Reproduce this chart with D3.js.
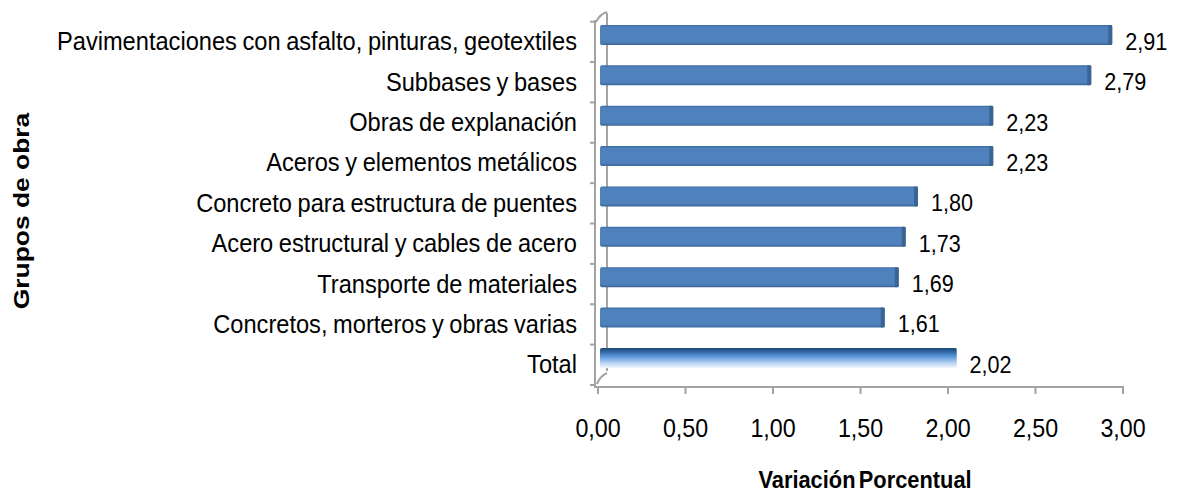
<!DOCTYPE html>
<html>
<head>
<meta charset="utf-8">
<script src="https://cdn.jsdelivr.net/npm/d3@7"></script>
<style>
  body { margin: 0; background: #fff; }
  svg text { font-family: "Liberation Sans", Arial, sans-serif; fill: #000; }
</style>
</head>
<body>
<svg id="chart" width="1177" height="499"></svg>
<script>
// categories top to bottom, and their values (%)
var categories = [
    "Pavimentaciones con asfalto, pinturas, geotextiles",
    "Subbases y bases",
    "Obras de explanación",
    "Aceros y elementos metálicos",
    "Concreto para estructura de puentes",
    "Acero estructural y cables de acero",
    "Transporte de materiales",
    "Concretos, morteros y obras varias",
    "Total"
];
var values = [2.91, 2.79, 2.23, 2.23, 1.80, 1.73, 1.69, 1.61, 2.02];
var tickValues = [0, 0.5, 1, 1.5, 2, 2.5, 3];

var svg = d3.select("#chart");
var fmt = function(v) { return d3.format(".2f")(v).replace(".", ","); };

var x = d3.scaleLinear().domain([0, 3]).range([598, 1123]);
var y = d3.scaleBand().domain(categories).range([21.7, 385]);

var defs = svg.append("defs");
var g1 = defs.append("linearGradient").attr("id", "barGrad")
    .attr("x1", 0).attr("y1", 0).attr("x2", 0).attr("y2", 1);
[[0, "#3c6aa2"], [0.1, "#4f81bd"], [0.85, "#4f81bd"], [1, "#3b6597"]].forEach(function(s) {
    g1.append("stop").attr("offset", s[0]).attr("stop-color", s[1]);
});
var g2 = defs.append("linearGradient").attr("id", "totalGrad")
    .attr("x1", 0).attr("y1", 0).attr("x2", 0).attr("y2", 1);
[[0, "#1e4876"], [0.15, "#2a5f9a"], [0.45, "#5f9ade"], [0.75, "#b7d3f3"], [1, "#f2f6fc"]].forEach(function(s) {
    g2.append("stop").attr("offset", s[0]).attr("stop-color", s[1]);
});

// 3D frame
var frame = svg.append("g").attr("fill", "none").attr("stroke", "#a3a3a3").attr("stroke-width", 2);
frame.append("line").attr("x1", 607).attr("y1", 13).attr("x2", 607).attr("y2", 371);
frame.append("path").attr("d", "M596,22 Q600,14 607,12");
frame.append("path").attr("d", "M597,384 Q600,376 607,373");
frame.append("line").attr("x1", 595).attr("y1", 20).attr("x2", 595).attr("y2", 387);
frame.append("line").attr("x1", 594).attr("y1", 387).attr("x2", x(3) + 1).attr("y2", 387);

// left ticks at band boundaries
var bounds = categories.map(function(c) { return y(c); }).concat([y.range()[1]]);
frame.selectAll(".ytick").data(bounds).enter().append("line")
    .attr("x1", 590).attr("x2", 596)
    .attr("y1", function(d) { return d; }).attr("y2", function(d) { return d; });

// bottom ticks
frame.selectAll(".xtick").data(tickValues).enter().append("line")
    .attr("x1", function(d) { return x(d); }).attr("x2", function(d) { return x(d); })
    .attr("y1", 386).attr("y2", 394);

svg.selectAll(".xlabel").data(tickValues).enter().append("text")
    .attr("transform", function(d) { return "translate(" + x(d) + ",437) scale(0.93,1)"; })
    .attr("text-anchor", "middle")
    .style("font-size", "25px")
    .text(fmt);

// bars
var bars = svg.selectAll(".bar").data(values).enter().append("g");
bars.append("rect")
    .attr("x", x(0) + 2)
    .attr("y", function(d, i) { return y(categories[i]) + 3.3; })
    .attr("width", function(d) { return x(d) + 3 - x(0); })
    .attr("height", 20)
    .attr("rx", 2)
    .attr("fill", function(d, i) { return categories[i] === "Total" ? "url(#totalGrad)" : "url(#barGrad)"; });
bars.append("rect")
    .attr("x", function(d) { return x(d) + 1; })
    .attr("y", function(d, i) { return y(categories[i]) + 3.3; })
    .attr("width", 4)
    .attr("height", 20)
    .attr("rx", 1)
    .attr("fill", function(d, i) { return categories[i] === "Total" ? "url(#totalGrad)" : "#38608f"; })
    .attr("opacity", function(d, i) { return categories[i] === "Total" ? 1 : 0.9; });

// value labels
bars.append("text")
    .attr("transform", function(d, i) {
        return "translate(" + (x(d) + 18) + "," + (y(categories[i]) + y.bandwidth() / 2 + 8) + ") scale(0.9,1)";
    })
    .style("font-size", "24px")
    .text(fmt);

// category labels
svg.selectAll(".cat").data(categories).enter().append("text")
    .attr("transform", function(d) {
        return "translate(577," + (y(d) + y.bandwidth() / 2 + 8.5) + ") scale(0.945,1)";
    })
    .attr("text-anchor", "end")
    .style("font-size", "25px")
    .style("word-spacing", "-1px")
    .text(function(d) { return d; });

// axis titles
svg.append("text")
    .attr("transform", "translate(865,488) scale(0.95,1)")
    .attr("text-anchor", "middle")
    .style("font-size", "23px").style("font-weight", "bold").style("word-spacing", "-3px")
    .text("Variación Porcentual");

svg.append("text")
    .attr("transform", "translate(29,211) rotate(-90) scale(1.2,1)")
    .attr("text-anchor", "middle")
    .style("font-size", "22px").style("font-weight", "bold")
    .text("Grupos de obra");
</script>
</body>
</html>
